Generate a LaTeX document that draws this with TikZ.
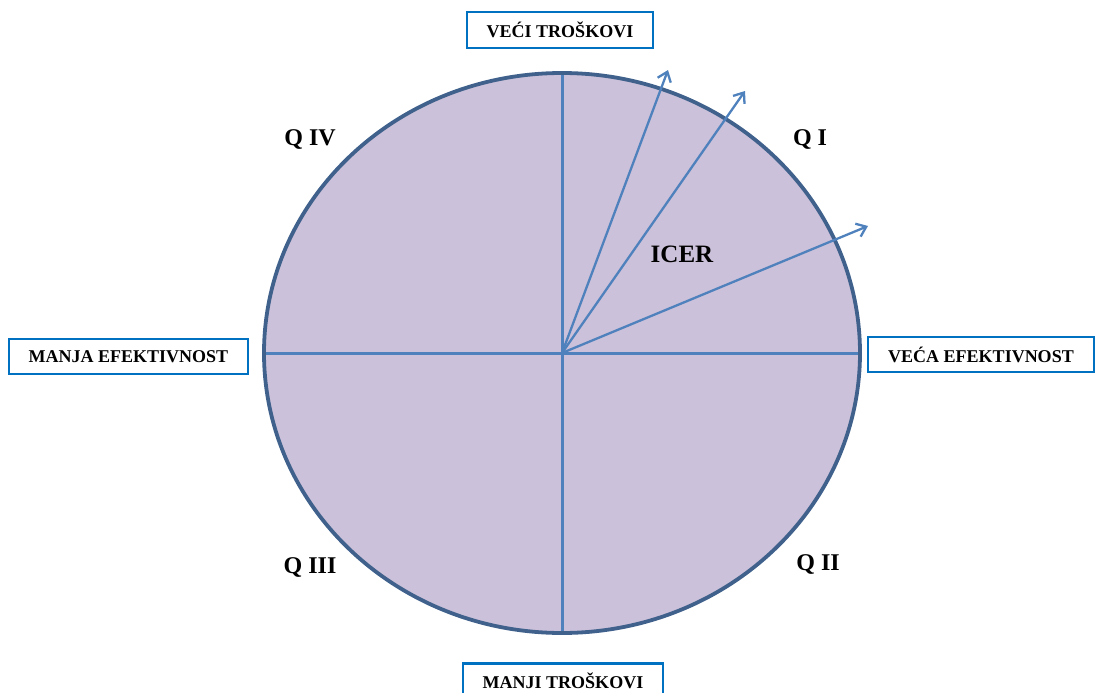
\documentclass[tikz,border=0pt]{standalone}
\usepackage{fontspec}
\setmainfont{Liberation Serif}
\usetikzlibrary{arrows.meta}
\definecolor{fillc}{RGB}{204,193,218}
\definecolor{rimc}{RGB}{64,97,140}
\definecolor{axisc}{RGB}{79,129,189}
\definecolor{boxc}{RGB}{0,112,192}
\tikzset{
  axisline/.style={draw=axisc, line width=3pt},
  icerarrow/.style={draw=axisc, line width=2.3pt, -{Straight Barb[length=9pt,width=14pt,line width=2.3pt]}},
  labelbox/.style={draw=boxc, line width=2.8pt, fill=white, inner sep=0pt, font=\fontsize{18}{20}\selectfont\bfseries, text=black},
  qlabel/.style={font=\fontsize{24}{28}\selectfont\bfseries, text=black},
}
\begin{document}
\begin{tikzpicture}[x=1pt,y=-1pt]
\useasboundingbox (0,0) rectangle (1096,693);
\clip (0,0) rectangle (1096,693);
\coordinate (O) at (562,353);
\fill[fillc] (O) ellipse [x radius=298, y radius=280];
\coordinate (T) at (562,73);
\coordinate (B) at (562,633);
\coordinate (L) at (264,353);
\coordinate (R) at (860,353);
\draw[axisline] (T) -- (B);
\draw[axisline] (L) -- (R);
\draw[draw=rimc, line width=3.8pt] (O) ellipse [x radius=298, y radius=280];
\coordinate (A1) at (668,70);
\coordinate (A2) at (745,91);
\coordinate (A3) at (868,226);
\draw[icerarrow] (O) -- (A1);
\draw[icerarrow] (O) -- (A2);
\draw[icerarrow] (O) -- (A3);
\node[labelbox, minimum width=186pt, minimum height=36pt] (top) at (560,30) {VEĆI TROŠKOVI};
\node[labelbox, minimum width=239pt, minimum height=35pt] (left) at (128.5,356.5) {MANJA EFEKTIVNOST};
\node[labelbox, minimum width=226pt, minimum height=35pt] (right) at (981,354.5) {VEĆA EFEKTIVNOST};
\node[labelbox, minimum width=200pt, minimum height=40pt, anchor=north] (bottom) at (563,662) {\raisebox{6pt}{MANJI TROŠKOVI}};
\node[qlabel] (q1) at (810,139) {Q I};
\node[qlabel] (q2) at (818,564) {Q II};
\node[qlabel] (q3) at (310,567) {Q III};
\node[qlabel] (q4) at (310,140) {Q IV};
\node[qlabel, font=\fontsize{25}{28}\selectfont\bfseries] (icer) at (682,254) {ICER};
\end{tikzpicture}
\end{document}
